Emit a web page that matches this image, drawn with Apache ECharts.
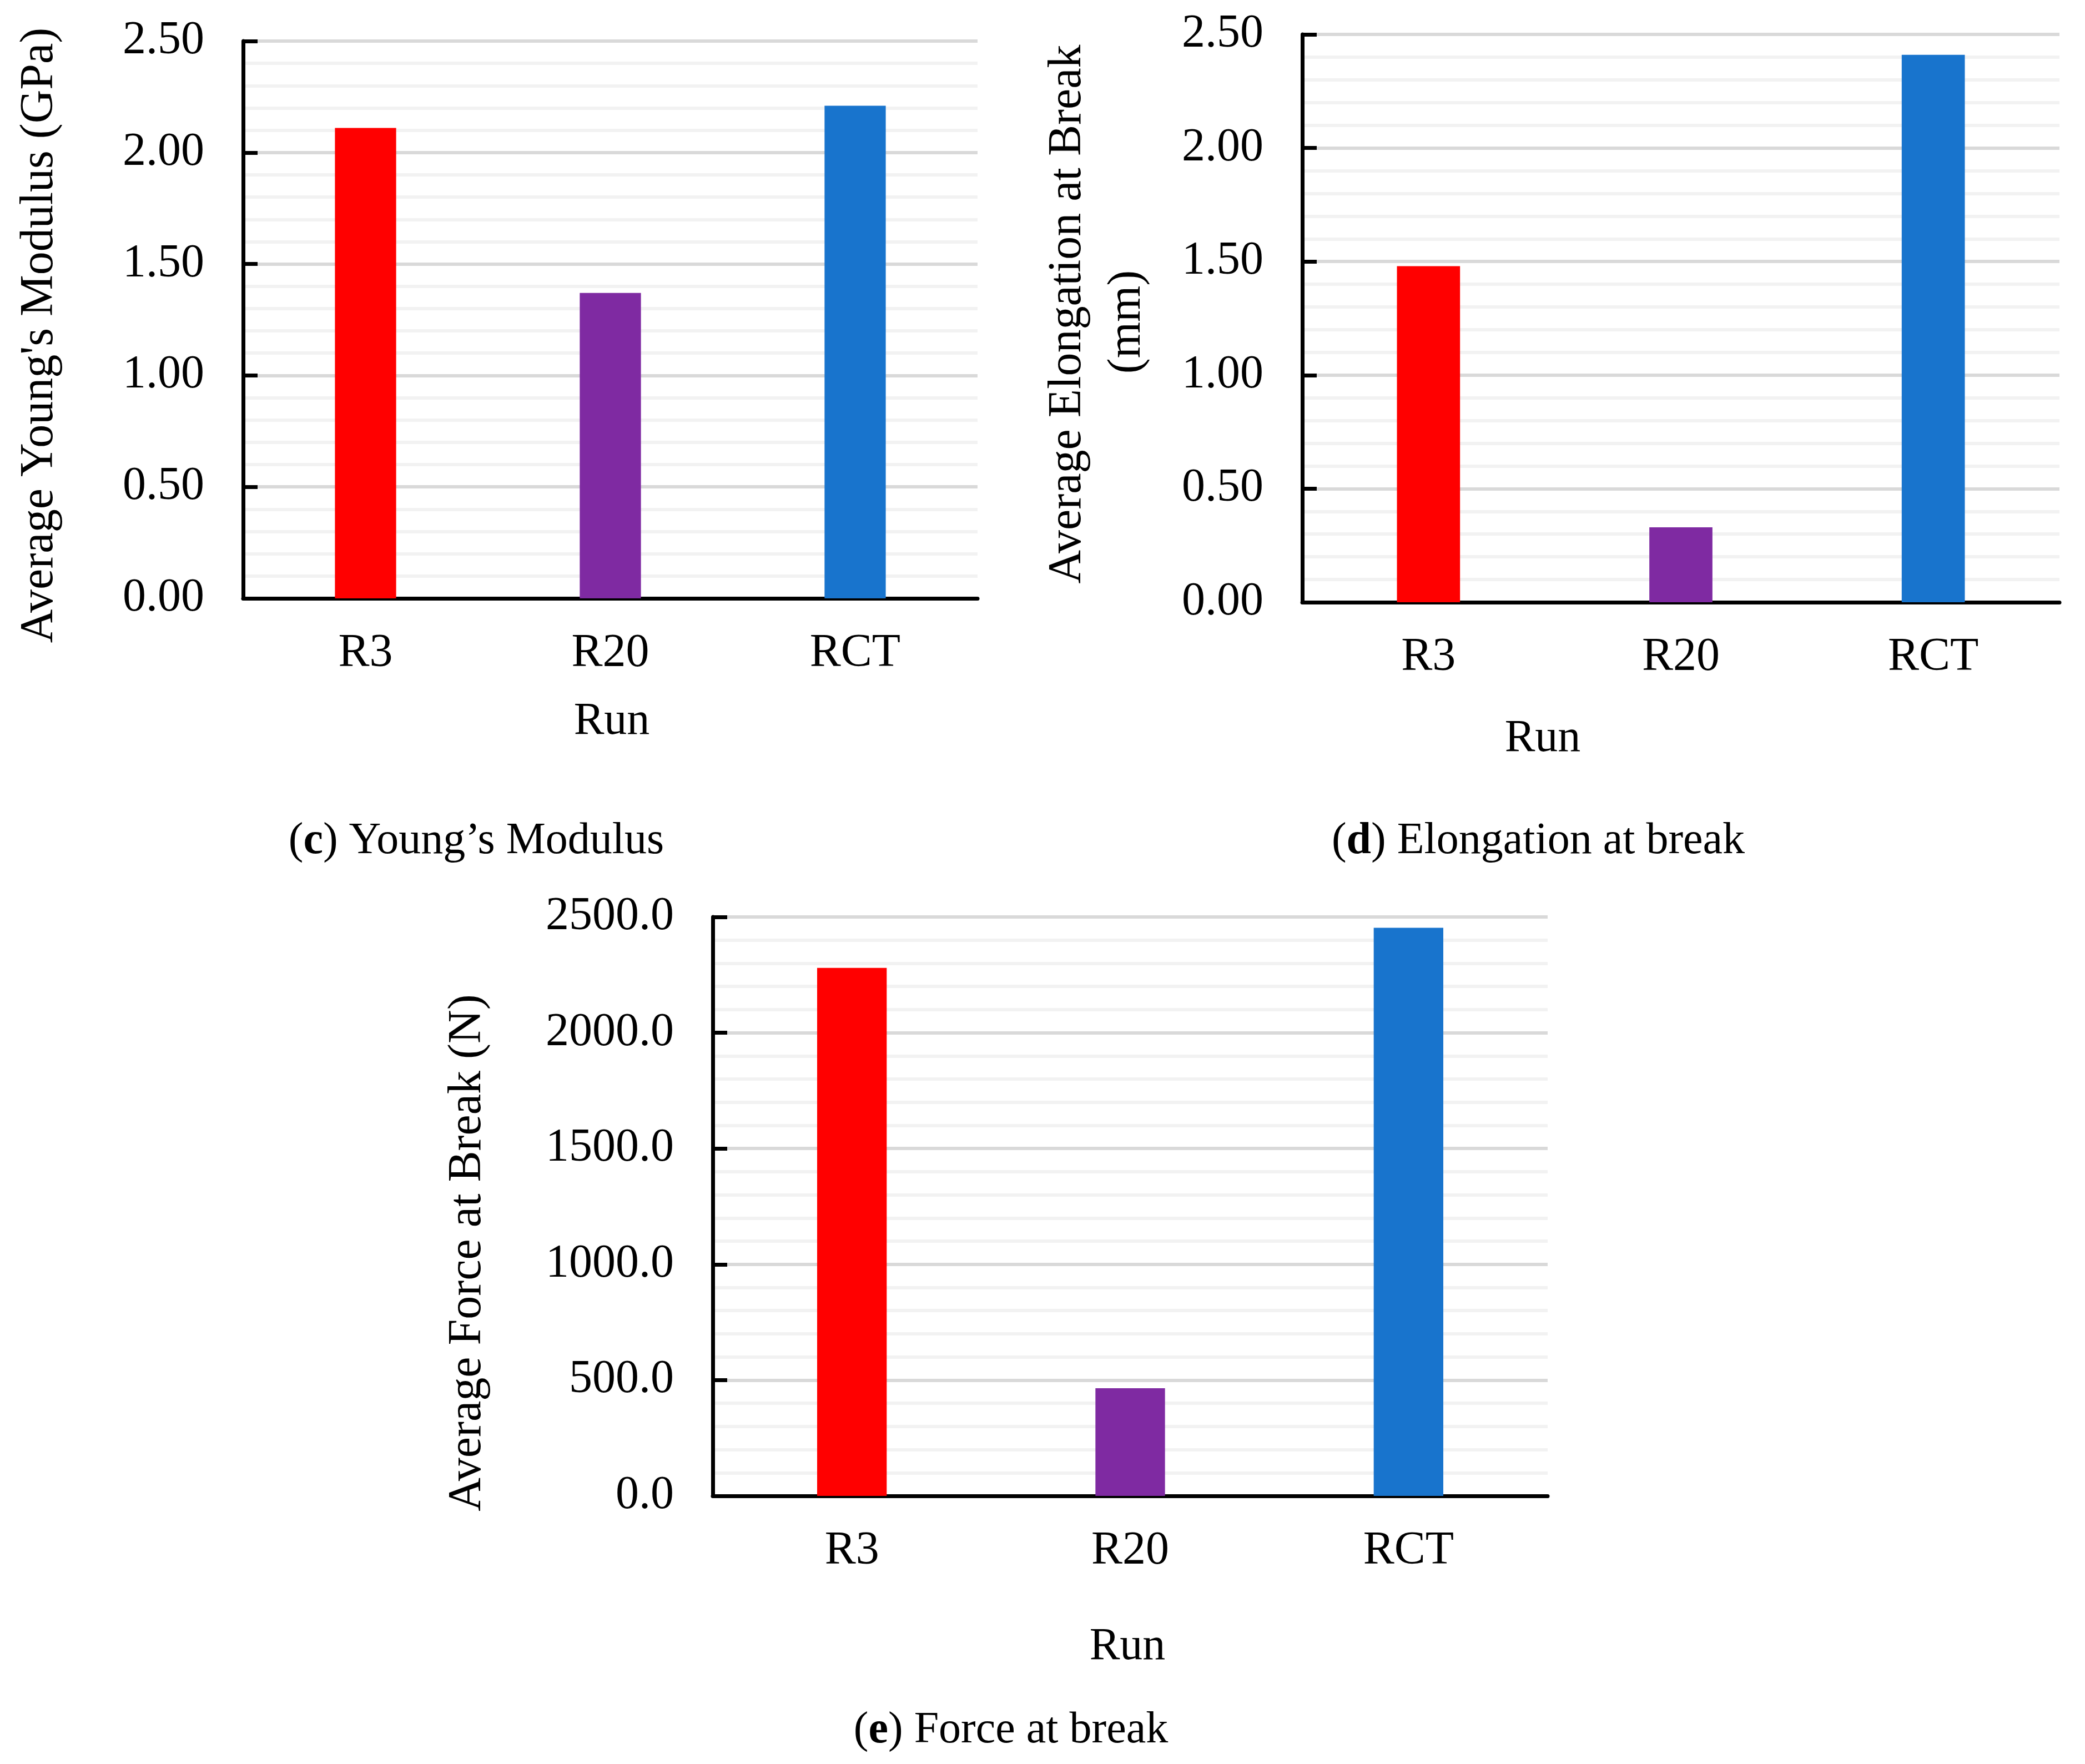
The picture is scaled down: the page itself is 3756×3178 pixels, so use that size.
<!DOCTYPE html>
<html>
<head>
<meta charset="utf-8">
<title>Mechanical properties</title>
<script src="https://cdn.jsdelivr.net/npm/echarts@6/dist/echarts.min.js"></script>
<style>
  html, body { margin: 0; padding: 0; background: #fff; }
  #main { width: 3756px; height: 3178px; }
</style>
</head>
<body>
<div id="main"></div>
<script>
// data
let runs = ['R3', 'R20', 'RCT'];
let barColors = ['#ff0000', '#7f2aa2', '#1874cd'];
let youngModulus = [2.11, 1.37, 2.21];      // GPa
let elongation = [1.48, 0.33, 2.41];        // mm
let forceAtBreak = [2280, 465, 2453];       // N

let FONT = '"Liberation Serif", "Times New Roman", serif';

function barData(vals) {
    let res = [];
    for (let i = 0; i < vals.length; i++) {
        res.push({value: vals[i], itemStyle: {color: barColors[i]}});
    }
    return res;
}

function makeX(gridIndex) {
    return {
        type: 'category',
        gridIndex: gridIndex,
        data: runs,
        axisLine: {lineStyle: {color: '#000', width: 7}},
        axisTick: {show: false},
        axisLabel: {color: '#000', fontFamily: FONT, fontSize: 84, margin: 58}
    };
}

function makeY(gridIndex, max, interval, digits) {
    return {
        type: 'value',
        gridIndex: gridIndex,
        min: 0,
        max: max,
        interval: interval,
        axisLine: {show: true, lineStyle: {color: '#000', width: 7}},
        axisTick: {show: true, inside: true, length: 26, lineStyle: {color: '#000', width: 7}},
        minorTick: {show: false, splitNumber: 5},
        splitLine: {show: true, lineStyle: {color: '#d9d9d9', width: 6}},
        minorSplitLine: {show: true, lineStyle: {color: '#f2f2f2', width: 6}},
        axisLabel: {
            color: '#000', fontFamily: FONT, fontSize: 84, margin: 70,
            formatter: function (v) { return v.toFixed(digits); }
        }
    };
}

function txt(x, y, text, opts) {
    let o = opts || {};
    return {
        type: 'text',
        x: x, y: y,
        rotation: o.rotation || 0,
        style: {
            text: text,
            fontFamily: FONT,
            fontSize: o.fontSize || 84,
            fill: '#000',
            align: 'center',
            verticalAlign: 'middle',
            rich: {b: {fontWeight: 'bold', fontFamily: FONT, fontSize: o.fontSize || 84}}
        }
    };
}

let myChart = echarts.init(document.getElementById('main'));
let option = {
    animation: false,
    backgroundColor: '#fff',
    grid: [
        {left: 438, top: 74, width: 1323, height: 1004},
        {left: 2346, top: 62, width: 1364, height: 1023},
        {left: 1284, top: 1652, width: 1504, height: 1043}
    ],
    xAxis: [makeX(0), makeX(1), makeX(2)],
    yAxis: [
        makeY(0, 2.5, 0.5, 2),
        makeY(1, 2.5, 0.5, 2),
        makeY(2, 2500, 500, 1)
    ],
    series: [
        {type: 'bar', xAxisIndex: 0, yAxisIndex: 0, barWidth: '25%', data: barData(youngModulus)},
        {type: 'bar', xAxisIndex: 1, yAxisIndex: 1, barWidth: '25%', data: barData(elongation)},
        {type: 'bar', xAxisIndex: 2, yAxisIndex: 2, barWidth: '25%', data: barData(forceAtBreak)}
    ],
    graphic: [
        // axis titles
        txt(72, 604, "Average Young's Modulus (GPa)", {rotation: Math.PI / 2}),
        txt(1924, 566, 'Average Elongation at Break', {rotation: Math.PI / 2}),
        txt(2031, 580, '(mm)', {rotation: Math.PI / 2}),
        txt(843, 2257, 'Average Force at Break (N)', {rotation: Math.PI / 2}),
        txt(1102, 1300, 'Run', {fontSize: 82}),
        txt(2779, 1331, 'Run', {fontSize: 82}),
        txt(2031, 2967, 'Run', {fontSize: 82}),
        // captions
        txt(858, 1516, '({b|c}) Young\u2019s Modulus', {fontSize: 80}),
        txt(2771, 1516, '({b|d}) Elongation at break', {fontSize: 80}),
        txt(1821, 3118, '({b|e}) Force at break', {fontSize: 80})
    ]
};
myChart.setOption(option);
</script>
</body>
</html>
